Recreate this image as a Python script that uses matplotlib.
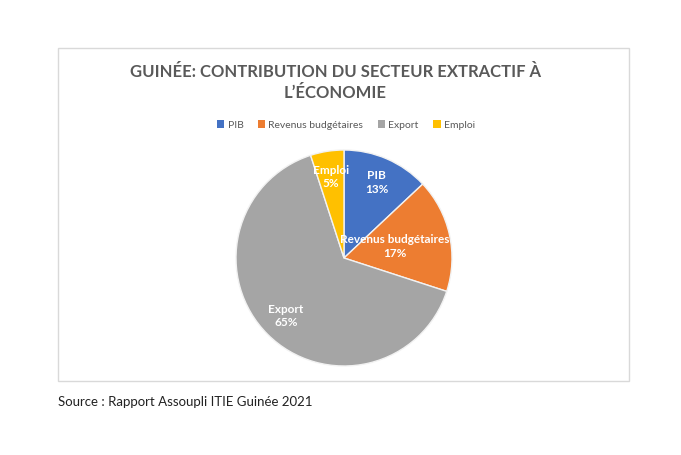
import matplotlib
matplotlib.use("Agg")
import matplotlib.pyplot as plt
from matplotlib.patches import Patch, Rectangle
import numpy as np

plt.rcParams['font.family'] = ['Lato', 'DejaVu Sans']

# data
categories = ['PIB', 'Revenus budgétaires', 'Export', 'Emploi']
values = [13, 17, 65, 5]
colors = ['#4472C4', '#ED7D31', '#A5A5A5', '#FFC000']
label_radius = [0.76, 0.48, 0.76, 0.76]  # Excel pulls the orange label inward

title = "GUINÉE: CONTRIBUTION DU SECTEUR EXTRACTIF À\nL\u2019ÉCONOMIE"
source = "Source : Rapport Assoupli ITIE Guinée 2021"

W, H = 681, 455
fig = plt.figure(figsize=(W / 100, H / 100), dpi=100)

# chart frame
fig.patches.append(Rectangle((58 / W, 1 - 381 / H), (629 - 58) / W, (381 - 48) / H,
                             transform=fig.transFigure, fill=False,
                             edgecolor='#d9d9d9', linewidth=1))

# pie
cx, cy, r = 344, 258, 108
ax = fig.add_axes([(cx - r) / W, 1 - (cy + r) / H, 2 * r / W, 2 * r / H])
wedges, _ = ax.pie(values, colors=colors, startangle=90, counterclock=False,
                   wedgeprops=dict(edgecolor='#f2f2f2', linewidth=1.0))
ax.set_xlim(-1, 1)
ax.set_ylim(-1, 1)
ax.axis('off')

for w, cat, v, lr in zip(wedges, categories, values, label_radius):
    ang = np.deg2rad((w.theta1 + w.theta2) / 2)
    ax.text(lr * np.cos(ang), lr * np.sin(ang), f"{cat}\n{v}%",
            ha='center', va='center', color='white', fontweight='bold',
            fontsize=8.5, linespacing=1.3)

fig.text(335 / W, 1 - 82.5 / H, title, ha='center', va='center',
         fontsize=12, fontweight='bold', color='#595959', linespacing=1.35)

handles = [Patch(facecolor=c, edgecolor='none') for c in colors]
fig.legend(handles, categories, loc='center', bbox_to_anchor=(346 / W, 1 - 125 / H),
           ncol=4, frameon=False, fontsize=7.5, handlelength=0.7, handleheight=0.7,
           handletextpad=0.3, columnspacing=1.4, labelcolor='#595959')

fig.text(58 / W, 1 - 402 / H, source, ha='left', va='center', fontsize=9.5, color='#222222')

fig.savefig('out.png', dpi=100)
